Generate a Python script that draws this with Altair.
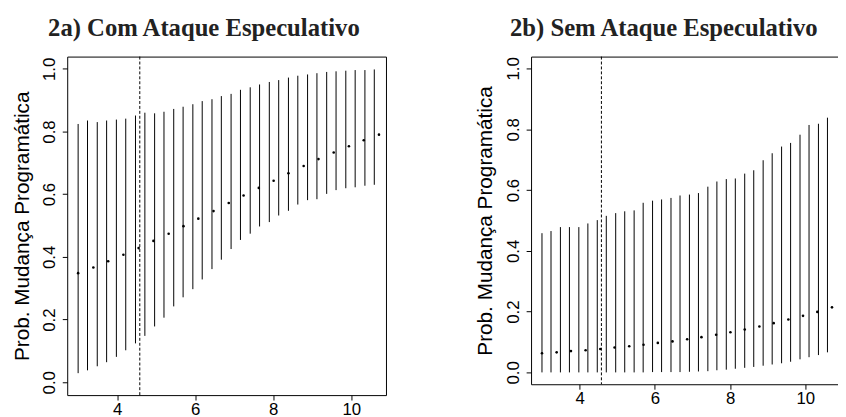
import altair as alt
import pandas as pd

# ---- data ----
dot_x = [3.00, 3.39, 3.77, 4.16, 4.55, 4.93, 5.32, 5.70, 6.08, 6.47, 6.86,
         7.24, 7.63, 8.01, 8.39, 8.78, 9.16, 9.55, 9.94, 10.32, 10.71]
bar_x = [3.00, 3.24, 3.49, 3.73, 3.98, 4.22, 4.47, 4.71, 4.96, 5.20, 5.45,
         5.69, 5.94, 6.18, 6.43, 6.67, 6.92, 7.16, 7.41, 7.65, 7.90, 8.14,
         8.39, 8.63, 8.88, 9.12, 9.37, 9.61, 9.86, 10.10, 10.35, 10.59]
cutoff = [4.58]

# Panel 2a) Com Ataque Especulativo
a_mean = [0.348, 0.366, 0.386, 0.407, 0.428, 0.451, 0.474, 0.498, 0.522, 0.546, 0.572,
          0.596, 0.620, 0.643, 0.667, 0.690, 0.712, 0.733, 0.753, 0.772, 0.790]
a_low = [0.029, 0.038, 0.051, 0.064, 0.081, 0.102, 0.124, 0.148, 0.178, 0.206, 0.242,
         0.271, 0.297, 0.328, 0.361, 0.391, 0.425, 0.454, 0.474, 0.497, 0.511, 0.532,
         0.547, 0.567, 0.581, 0.584, 0.601, 0.613, 0.619, 0.622, 0.627, 0.630]
a_high = [0.824, 0.835, 0.830, 0.835, 0.838, 0.841, 0.851, 0.860, 0.858, 0.863, 0.872,
          0.879, 0.887, 0.897, 0.903, 0.913, 0.920, 0.933, 0.941, 0.950, 0.958, 0.964,
          0.972, 0.978, 0.982, 0.986, 0.990, 0.992, 0.994, 0.996, 0.996, 0.998]

# Panel 2b) Sem Ataque Especulativo
b_mean = [0.063, 0.066, 0.070, 0.073, 0.077, 0.082, 0.086, 0.091, 0.097, 0.102, 0.109,
          0.116, 0.124, 0.132, 0.141, 0.151, 0.162, 0.174, 0.186, 0.199, 0.214]
b_low = [0.000, 0.000, 0.000, 0.000, 0.000, 0.000, 0.000, 0.000, 0.000, 0.000, 0.000,
         0.000, 0.001, 0.001, 0.001, 0.001, 0.002, 0.003, 0.004, 0.007, 0.009, 0.012,
         0.015, 0.018, 0.022, 0.026, 0.030, 0.035, 0.043, 0.050, 0.057, 0.066]
b_high = [0.458, 0.465, 0.478, 0.478, 0.478, 0.490, 0.501, 0.515, 0.524, 0.530, 0.533,
          0.558, 0.565, 0.569, 0.574, 0.582, 0.585, 0.590, 0.611, 0.628, 0.636, 0.638,
          0.654, 0.665, 0.698, 0.721, 0.743, 0.755, 0.782, 0.814, 0.818, 0.838]

y_ticks = [0.0, 0.2, 0.4, 0.6, 0.8, 1.0]
x_ticks = [4, 6, 8, 10]
y_title = "Prob. Mudança Programática"

SANS = "Liberation Sans"
SERIF = "Liberation Serif"


def panel(title, title_dx, mean, low, high, width, height, xdom, ydom,
          title_pad, boxed):
    bars_df = pd.DataFrame({"x": bar_x, "lo": low, "hi": high})
    dots_df = pd.DataFrame({"x": dot_x, "y": mean})
    cut_df = pd.DataFrame({"x": cutoff})

    xs = alt.Scale(domain=xdom, nice=False, zero=False)
    ys = alt.Scale(domain=ydom, nice=False, zero=False)

    common = dict(tickColor="black", tickSize=5, tickWidth=1, grid=False,
                  labelFont=SANS, labelFontSize=17, labelColor="black",
                  domain=not boxed, domainColor="black", domainWidth=1)
    xaxis = alt.Axis(values=x_ticks, format="d", title=None, labelPadding=1.5,
                     labelBaseline="top", **common)
    yaxis = alt.Axis(values=y_ticks, format=".1f", title=y_title,
                     labelAngle=270, labelAlign="center",
                     labelBaseline="alphabetic", labelPadding=8,
                     titleFont=SANS, titleFontSize=21, titleFontWeight="normal",
                     titleColor="black", titlePadding=title_pad, **common)

    bars = alt.Chart(bars_df).mark_rule(color="black", strokeWidth=1).encode(
        x=alt.X("x:Q", scale=xs, axis=xaxis),
        y=alt.Y("lo:Q", scale=ys, axis=yaxis),
        y2="hi:Q",
    )
    dots = alt.Chart(dots_df).mark_circle(color="black", size=7, opacity=1).encode(
        x="x:Q", y="y:Q"
    )
    tparams = alt.TitleParams(title, font=SERIF, fontSize=25, fontWeight="bold",
                              color="#222222", anchor="middle", dx=title_dx,
                              offset=15.5)
    if boxed:
        vline = alt.Chart(cut_df).mark_rule(
            color="black", strokeWidth=1, strokeDash=[3, 2]
        ).encode(x="x:Q")
        ch = alt.layer(bars, vline, dots)
    else:
        vline = alt.Chart(cut_df).mark_rule(
            color="black", strokeWidth=1, strokeDash=[3, 2]
        ).encode(x=alt.X("x:Q", axis=alt.Axis(orient="top", labels=False, ticks=False,
                                              domain=True, domainColor="black",
                                              domainWidth=1, title=None, grid=False)))
        ch = alt.layer(alt.layer(bars, dots), vline).resolve_axis(x="independent")
    ch = ch.properties(
        width=width, height=height, title=tparams,
        view=alt.ViewBackground(stroke="black" if boxed else None, strokeWidth=1),
    )
    return ch


pa = panel("2a) Com Ataque Especulativo", -23, a_mean, a_low, a_high,
           323, 343, [2.72, 10.89], [-0.041, 1.039], 8, True)
pb = panel("2b) Sem Ataque Especulativo", -21, b_mean, b_low, b_high,
           311, 332, [2.71, 10.87], [-0.039, 1.039], 9.5, False)

chart = alt.hconcat(pa, pb, spacing=88).properties(
    padding={"left": 3, "top": 4.5, "right": 0, "bottom": 0},
    background="white",
)

chart.save("out.html", embed_options={"renderer": "svg", "actions": False})
